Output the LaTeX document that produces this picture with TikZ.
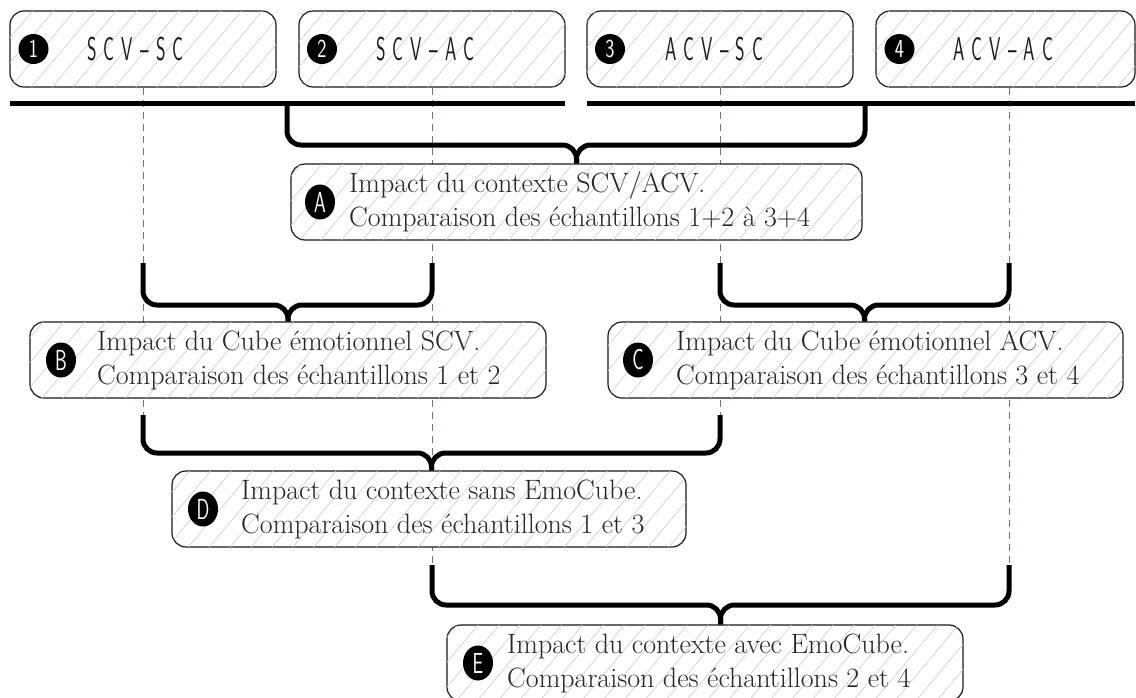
\documentclass[tikz,border=0pt]{standalone}
\usepackage{fontspec}
\usepackage{graphicx}
\usetikzlibrary{patterns.meta,backgrounds,shapes.geometric}
\definecolor{dashgray}{RGB}{105,120,125}
\newcommand{\cnd}[2][0.6]{\scalebox{#1}[1]{#2}}
\newcommand{\gsp}{\hspace{13pt}}
\newcommand{\toplab}[6]{\scalebox{0.55}[1]{\fontsize{33}{33}\sffamily #1\gsp #2\gsp #3\gsp #4\gsp #5\gsp #6}}
\begin{document}
\begin{tikzpicture}[x=1pt,y=-1pt,
  box/.style={draw=black!90, line width=1.2pt, rounded corners=14pt, fill=white,
    postaction={pattern={Lines[angle=50,distance=16pt,line width=0.7pt]}, pattern color=black!18},
    inner sep=0pt, minimum height=76pt},
  numc/.style={circle, fill=black, minimum size=30pt, inner sep=0pt, text=white,
    font=\sffamily\fontsize{26}{26}\selectfont},
  letc/.style={ellipse, fill=black, minimum width=30pt, minimum height=35pt, inner sep=0pt, text=white,
    font=\sffamily\fontsize{29}{29}\selectfont},
  toptxt/.style={anchor=west, inner sep=0pt, text=black!90},
  maintxt/.style={anchor=west, inner sep=0pt, align=left, text=black!85,
    font=\fontsize{28}{34}\selectfont},
  thickline/.style={line width=5pt, black},
  brace/.style={line width=5pt, black, rounded corners=14pt},
  dashline/.style={draw=dashgray, line width=1pt, dash pattern=on 7pt off 5pt}
]
\useasboundingbox (0,0) rectangle (1136,697);

% top boxes
\node[box, minimum width=266pt] (b1) at (143,49) {};
\node[box, minimum width=266pt] (b2) at (432,49) {};
\node[box, minimum width=266pt] (b3) at (720,49) {};
\node[box, minimum width=259pt] (b4) at (1005.5,49) {};
\node[numc] (n1) at (33.5,49) {\cnd[0.75]{1}};
\node[numc] (n2) at (322,49) {\cnd[0.75]{2}};
\node[numc] (n3) at (610,49) {\cnd[0.75]{3}};
\node[numc] (n4) at (899.5,49) {\cnd[0.75]{4}};
\node[toptxt] (t1) at (87,49) {\toplab{S}{C}{V}{–}{S}{C}};
\node[toptxt] (t2) at (376,49) {\toplab{S}{C}{V}{–}{A}{C}};
\node[toptxt] (t3) at (665,49) {\toplab{A}{C}{V}{–}{S}{C}};
\node[toptxt] (t4) at (953,49) {\toplab{A}{C}{V}{–}{A}{C}};

% comparison boxes
\node[box, minimum width=571pt] (bA) at (576.5,202) {};
\node[letc] (cA) at (320,202) {\cnd[0.65]{A}};
\node[maintxt] (xA) at (349,202) {Impact du contexte SCV/ACV.\\Comparaison des échantillons 1+2 à 3+4};

\node[box, minimum width=516pt] (bB) at (288,360) {};
\node[letc] (cB) at (61,360) {\cnd[0.65]{B}};
\node[maintxt] (xB) at (97,360) {Impact du Cube émotionnel SCV.\\Comparaison des échantillons 1 et 2};

\node[box, minimum width=515pt] (bC) at (865.5,360) {};
\node[letc] (cC) at (638,360) {\cnd[0.65]{C}};
\node[maintxt] (xC) at (676,360) {Impact du Cube émotionnel ACV.\\Comparaison des échantillons 3 et 4};

\node[box, minimum width=514pt] (bD) at (429,509) {};
\node[letc] (cD) at (203,509) {\cnd[0.65]{D}};
\node[maintxt] (xD) at (241,509) {Impact du contexte sans EmoCube.\\Comparaison des échantillons 1 et 3};

\node[box, minimum width=516pt] (bE) at (705,663) {};
\node[letc] (cE) at (478,663) {\cnd[0.65]{E}};
\node[maintxt] (xE) at (507,663) {Impact du contexte avec EmoCube.\\Comparaison des échantillons 2 et 4};

% coordinates
\coordinate (lL) at (10,103);
\coordinate (lR) at (565,103);
\coordinate (rL) at (587,103);
\coordinate (rR) at (1135,103);
\coordinate (aL) at (287,103);
\coordinate (aR) at (865,103);
\coordinate (aM) at (576.5,145);
\coordinate (kB1) at (143,263);
\coordinate (kB2) at (432,263);
\coordinate (kC1) at (720,263);
\coordinate (kC2) at (1009,263);
\coordinate (kD1) at (143,415);
\coordinate (kD2) at (720,415);
\coordinate (kE1) at (432,565);
\coordinate (kE2) at (1009,565);
\coordinate (bM) at (288,305);
\coordinate (cM) at (864.5,305);
\coordinate (dM) at (431.5,453);
\coordinate (eM) at (720.5,605);

% dashed guides
\begin{scope}[on background layer]
\draw[dashline] (b1.south) -- (kD1);
\draw[dashline] (b2.south) -- (kE1);
\draw[dashline] (b3.south) -- (kD2);
\draw[dashline] (b4.south -| kE2) -- (kE2);
\end{scope}

% thick lines
\draw[thickline] (lL) -- (lR);
\draw[thickline] (rL) -- (rR);

% braces
\draw[brace] (aL) -- (aL |- aM) -- (aM) -- (bA.north);
\draw[brace] (aR) -- (aR |- aM) -- (aM) -- (bA.north);
\draw[brace] (kB1) -- (kB1 |- bM) -- (bM) -- (bB.north);
\draw[brace] (kB2) -- (kB2 |- bM) -- (bM) -- (bB.north);
\draw[brace] (kC1) -- (kC1 |- cM) -- (cM) -- (cM |- bC.north);
\draw[brace] (kC2) -- (kC2 |- cM) -- (cM) -- (cM |- bC.north);
\draw[brace] (kD1) -- (kD1 |- dM) -- (dM) -- (dM |- bD.north);
\draw[brace] (kD2) -- (kD2 |- dM) -- (dM) -- (dM |- bD.north);
\draw[brace] (kE1) -- (kE1 |- eM) -- (eM) -- (eM |- bE.north);
\draw[brace] (kE2) -- (kE2 |- eM) -- (eM) -- (eM |- bE.north);
\end{tikzpicture}
\end{document}
